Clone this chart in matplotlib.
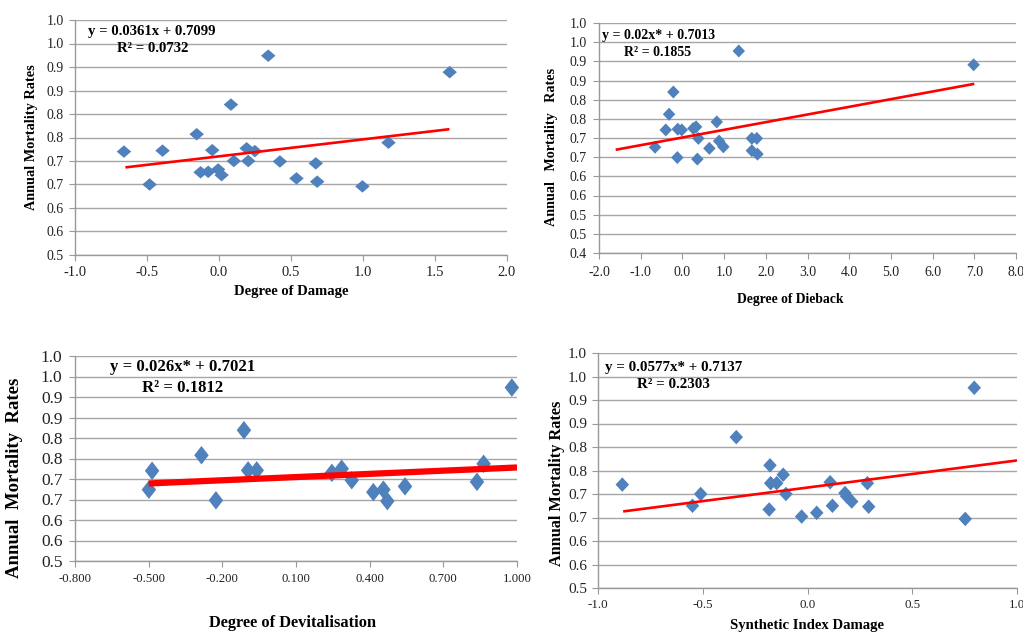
import matplotlib
matplotlib.use("Agg")
import matplotlib.pyplot as plt
import numpy as np

# ---------------- data ----------------
# Panel 1: Degree of Damage
damage_x = [-0.66, -0.482, -0.392, -0.155, -0.128, -0.075, -0.047, -0.006, 0.018, 0.083,
            0.103, 0.192, 0.203, 0.249, 0.342, 0.423, 0.538, 0.672, 0.682, 0.996, 1.177, 1.602]
damage_y = [0.720, 0.650, 0.722, 0.757, 0.676, 0.677, 0.723, 0.682, 0.670, 0.820,
            0.700, 0.727, 0.700, 0.721, 0.924, 0.699, 0.663, 0.695, 0.656, 0.646, 0.739, 0.889]
damage_fit = (0.0361, 0.7099)
damage_fit_x = [-0.65, 1.6]

# Panel 2: Degree of Dieback
dieback_x = [-0.656, -0.399, -0.32, -0.217, -0.121, -0.111, -0.015, 0.263, 0.328, 0.383,
             0.359, 0.647, 0.824, 0.88, 0.983, 1.352, 1.665, 1.785, 1.665, 1.80, 6.984]
dieback_y = [0.676, 0.721, 0.762, 0.820, 0.649, 0.723, 0.721, 0.725, 0.729, 0.699,
             0.645, 0.673, 0.742, 0.692, 0.677, 0.927, 0.699, 0.699, 0.667, 0.658, 0.891]
dieback_fit = (0.02, 0.7013)
dieback_fit_x = [-1.6, 7.0]

# Panel 3: Degree of Devitalisation
devit_x = [-0.499, -0.486, -0.285, -0.226, -0.112, -0.095, -0.060, 0.246, 0.286, 0.327,
           0.415, 0.456, 0.472, 0.544, 0.837, 0.864, 0.979]
devit_y = [0.674, 0.720, 0.758, 0.648, 0.819, 0.721, 0.721, 0.715, 0.725, 0.697,
           0.668, 0.674, 0.646, 0.682, 0.693, 0.737, 0.923]
devit_fit = (0.026, 0.7021)
devit_fit_x = [-0.5, 1.0]

# Panel 4: Synthetic Index Damage
synth_x = [-0.884, -0.549, -0.51, -0.340, -0.179, -0.176, -0.183, -0.147, -0.116, -0.103,
           -0.028, 0.044, 0.108, 0.119, 0.179, 0.187, 0.211, 0.286, 0.292, 0.753, 0.796]
synth_y = [0.720, 0.675, 0.700, 0.821, 0.761, 0.723, 0.667, 0.723, 0.741, 0.700,
           0.652, 0.660, 0.725, 0.675, 0.702, 0.695, 0.684, 0.723, 0.673, 0.647, 0.926]
synth_fit = (0.0577, 0.7137)
synth_fit_x = [-0.88, 1.0]

# tick labels (Excel-rounded)
yticks_050 = [0.50, 0.55, 0.60, 0.65, 0.70, 0.75, 0.80, 0.85, 0.90, 0.95, 1.00]
ylabels_050 = ["0.5", "0.6", "0.6", "0.7", "0.7", "0.8", "0.8", "0.9", "0.9", "1.0", "1.0"]
yticks_040 = [0.40, 0.45] + yticks_050
ylabels_040 = ["0.4", "0.5"] + ylabels_050

xticks_damage = [-1.0, -0.5, 0.0, 0.5, 1.0, 1.5, 2.0]
xlabels_damage = ["-1.0", "-0.5", "0.0", "0.5", "1.0", "1.5", "2.0"]
xticks_dieback = [-2.0, -1.0, 0.0, 1.0, 2.0, 3.0, 4.0, 5.0, 6.0, 7.0, 8.0]
xlabels_dieback = ["-2.0", "-1.0", "0.0", "1.0", "2.0", "3.0", "4.0", "5.0", "6.0", "7.0", "8.0"]
xticks_devit = [-0.8, -0.5, -0.2, 0.1, 0.4, 0.7, 1.0]
xlabels_devit = ["-0.800", "-0.500", "-0.200", "0.100", "0.400", "0.700", "1.000"]
xticks_synth = [-1.0, -0.5, 0.0, 0.5, 1.0]
xlabels_synth = ["-1.0", "-0.5", "0.0", "0.5", "1.0"]

eq_texts = ["y = 0.0361x + 0.7099", "y = 0.02x* + 0.7013", "y = 0.026x* + 0.7021", "y = 0.0577x* + 0.7137"]
r2_texts = ["R² = 0.0732", "R² = 0.1855", "R² = 0.1812", "R² = 0.2303"]
xlab_texts = ["Degree of Damage", "Degree of Dieback", "Degree of Devitalisation", "Synthetic Index Damage"]
ylab_texts = ["Annual Mortality Rates", "Annual   Mortality   Rates", "Annual  Mortality  Rates", "Annual Mortality Rates"]

# ---------------- drawing ----------------
W, H = 1023, 632
fig = plt.figure(figsize=(W / 100, H / 100), dpi=100)
SERIF = ["Liberation Serif", "DejaVu Serif"]
BLUE = "#4F81BD"
GRID = "#A6A6A6"


def fx(px):
    return px / W


def fy(py):
    return 1 - py / H


def panel(box, xs, ys, fit, fit_x, xlim, ylim, xt, xtl, yt, ytl,
          eq, r2, xlab, ylab, style):
    l, t, r, b = box
    ax = fig.add_axes([fx(l), fy(b), fx(r) - fx(l), fy(t) - fy(b)])
    ax.set_xlim(*xlim)
    ax.set_ylim(*ylim)
    ax.set_yticks(yt)
    ax.set_yticklabels(ytl, family=SERIF, fontsize=style["ytick"], color="#222222")
    ax.set_xticks(xt)
    ax.set_xticklabels(xtl, family=SERIF, fontsize=style["xtick"], color="#222222")
    for yv in yt:
        ax.axhline(yv, color=GRID, lw=1.0, zorder=1)
    for s in ["top", "right"]:
        ax.spines[s].set_visible(False)
    for s in ["left", "bottom"]:
        ax.spines[s].set_color("#999999")
        ax.spines[s].set_linewidth(1.0)
    ax.tick_params(axis="both", length=4, width=0.8, color="#999999", pad=style["pad"])
    mw, mh = style["marker"]  # marker width/height in pixels
    diamond = [(-mw, 0), (0, mh), (mw, 0), (0, -mh), (-mw, 0)]
    size_pt = max(mw, mh) * 0.72
    ax.scatter(xs, ys, marker=diamond, s=size_pt ** 2, color=BLUE, edgecolors="none",
               zorder=3, clip_on=False)
    fxv = np.array(fit_x)
    ax.plot(fxv, fit[0] * fxv + fit[1], color="#FF0000", lw=style["lw"], zorder=4,
            solid_capstyle="butt")
    ax.set_facecolor("white")
    # texts
    ex, ey, rx, ry = style["eqpos"]
    fig.text(fx(ex), fy(ey), eq, family=SERIF, weight="bold", fontsize=style["eq"],
             ha="left", va="center")
    fig.text(fx(rx), fy(ry), r2, family=SERIF, weight="bold", fontsize=style["eq"],
             ha="left", va="center")
    lx, ly = style["xlabpos"]
    fig.text(fx(lx), fy(ly), xlab, family=SERIF, weight="bold", fontsize=style["xlab"],
             ha="center", va="center")
    yx, yy = style["ylabpos"]
    fig.text(fx(yx), fy(yy), ylab, family=SERIF, weight="bold", fontsize=style["ylab"],
             ha="center", va="center", rotation=90)
    return ax


panel((75, 20, 507, 255), damage_x, damage_y, damage_fit, damage_fit_x,
      (-1.0, 2.0), (0.5, 1.0), xticks_damage, xlabels_damage, yticks_050, ylabels_050,
      eq_texts[0], r2_texts[0], xlab_texts[0], ylab_texts[0],
      dict(ytick=10, xtick=10.5, pad=4, marker=(14.5, 12.5), lw=1.9, eq=10.6, xlab=10.5, ylab=10.3,
           eqpos=(88, 32, 117, 48), xlabpos=(291, 292), ylabpos=(32, 137)))

panel((599, 23, 1016, 253), dieback_x, dieback_y, dieback_fit, dieback_fit_x,
      (-2.0, 8.0), (0.4, 1.0), xticks_dieback, xlabels_dieback, yticks_040, ylabels_040,
      eq_texts[1], r2_texts[1], xlab_texts[1], ylab_texts[1],
      dict(ytick=10, xtick=10, pad=5, marker=(12.5, 13), lw=1.9, eq=10, xlab=9.8, ylab=10.2,
           eqpos=(602, 36, 624, 53), xlabpos=(790, 300), ylabpos=(551, 147)))

panel((75, 356, 517, 561), devit_x, devit_y, devit_fit, devit_fit_x,
      (-0.8, 1.0), (0.5, 1.0), xticks_devit, xlabels_devit, yticks_050, ylabels_050,
      eq_texts[2], r2_texts[2], xlab_texts[2], ylab_texts[2],
      dict(ytick=12.5, xtick=9.2, pad=5, marker=(14.5, 18.5), lw=4.5, eq=12.1, xlab=11.8, ylab=13.5,
           eqpos=(110, 367, 142, 388), xlabpos=(293, 623), ylabpos=(15, 478)))

panel((598, 353, 1017, 588), synth_x, synth_y, synth_fit, synth_fit_x,
      (-1.0, 1.0), (0.5, 1.0), xticks_synth, xlabels_synth, yticks_050, ylabels_050,
      eq_texts[3], r2_texts[3], xlab_texts[3], ylab_texts[3],
      dict(ytick=11, xtick=9.4, pad=4, marker=(13.5, 14.5), lw=1.9, eq=10.8, xlab=10.6, ylab=11.7,
           eqpos=(605, 367, 637, 385), xlabpos=(807, 625), ylabpos=(557, 483)))

fig.savefig("out.png", dpi=100, facecolor="white")
